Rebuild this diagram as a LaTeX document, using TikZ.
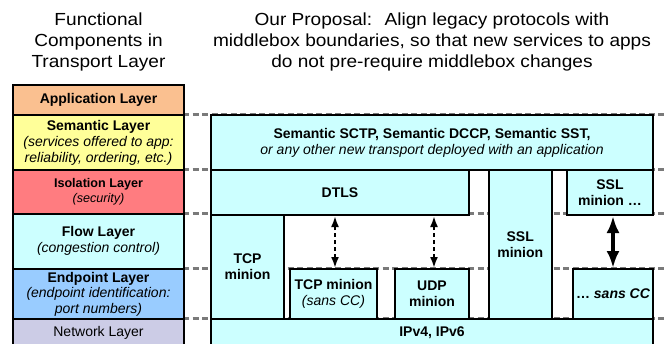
\documentclass[tikz,border=0pt]{standalone}
\usepackage{fontspec}
\setmainfont{Liberation Sans}
\newfontfamily\titlefont[FakeStretch=1.09]{Liberation Sans}
\usetikzlibrary{arrows.meta}

\definecolor{appc}{RGB}{250,192,144}
\definecolor{semc}{RGB}{255,255,153}
\definecolor{isoc}{RGB}{255,124,128}
\definecolor{flowc}{RGB}{204,255,255}
\definecolor{endc}{RGB}{153,204,255}
\definecolor{netc}{RGB}{204,204,230}
\definecolor{guidec}{RGB}{122,122,122}

\tikzset{
  box/.style={draw=black, line width=2pt, anchor=north west, inner sep=0pt,
    align=center, font=\fontsize{14}{16}\selectfont},
  layerbox/.style={box, minimum width=171pt},
  minionbox/.style={box, fill=flowc},
  guide/.style={draw=guidec, line width=3pt, dash pattern=on 6pt off 3.5pt},
  title/.style={align=center, font=\titlefont\fontsize{17.5}{21}\selectfont},
  softlink/.style={line width=2pt, dash pattern=on 4pt off 3pt,
    {Latex[length=11pt,width=8pt]}-{Latex[length=11pt,width=8pt]}},
  hardlink/.style={line width=4.5pt,
    {Latex[length=17pt,width=13pt]}-{Latex[length=17pt,width=13pt]}},
}

\begin{document}
\begin{tikzpicture}[x=1pt,y=-1pt]
\useasboundingbox (0,0) rectangle (664,343);
\clip (0,0) rectangle (664,343);

% headings
\node[title] (lefthead) at (98.5,41.5) {Functional\\Components in\\Transport Layer};
\node[title] (righthead) at (432,41.5) {Our Proposal:~ Align legacy protocols with\\middlebox boundaries, so that new services to apps\\do not pre-require middlebox changes};

% layer boundaries carried across the proposal
\coordinate (g1a) at (183,114); \coordinate (g1b) at (664,114);
\coordinate (g2a) at (183,169); \coordinate (g2b) at (664,169);
\coordinate (g3a) at (183,213); \coordinate (g3b) at (664,213);
\coordinate (g4a) at (183,268); \coordinate (g4b) at (664,268);
\coordinate (g5a) at (183,318); \coordinate (g5b) at (664,318);
\foreach \i in {1,...,5} \draw[guide] (g\i a) -- (g\i b);

% functional components
\node[layerbox, fill=appc, minimum height=30pt] (app) at (12,84) {\bfseries Application Layer};
\node[layerbox, fill=semc, minimum height=55pt] (sem) at (12,114)
  {\bfseries Semantic Layer\\\itshape (services offered to app:\\\itshape reliability, ordering, etc.)};
\node[layerbox, fill=isoc, minimum height=43.5pt, font=\fontsize{12.6}{14.5}\selectfont] (iso) at (12,169)
  {\bfseries Isolation Layer\\\itshape (security)};
\node[layerbox, fill=flowc, minimum height=55.5pt] (flow) at (12,212.5)
  {\bfseries Flow Layer\\\itshape (congestion control)};
\node[layerbox, fill=endc, minimum height=50pt, font=\fontsize{14}{15.5}\selectfont] (endp) at (12,268)
  {\bfseries Endpoint Layer\\\itshape (endpoint identification:\\\itshape port numbers)};
\node[layerbox, fill=netc, minimum height=28pt] (net) at (12,318) {Network Layer};

% proposed protocol arrangement
\node[minionbox, minimum width=442pt, minimum height=55pt] (semx) at (210,114)
  {\bfseries Semantic SCTP, Semantic DCCP, Semantic SST,\\\itshape or any other new transport deployed with an application};
\node[minionbox, minimum width=258pt, minimum height=45pt] (dtls) at (210,169) {\bfseries DTLS};
\node[minionbox, minimum width=73pt, minimum height=104pt] (tcpm) at (210,214) {\bfseries TCP\\\bfseries minion};
\node[minionbox, minimum width=87pt, minimum height=50pt] (tcpcc) at (289,268)
  {\bfseries TCP minion\\\itshape (sans CC)};
\node[minionbox, minimum width=74pt, minimum height=50pt] (udpm) at (394,268) {\bfseries UDP\\\bfseries minion};
\node[minionbox, minimum width=63.5pt, minimum height=149pt] (sslm) at (487.5,169) {\bfseries SSL\\\bfseries minion};
\node[minionbox, minimum width=86pt, minimum height=45pt] (sslmore) at (566,169)
  {\bfseries SSL\\\bfseries minion \ldots};
\node[minionbox, minimum width=80pt, minimum height=50pt] (sanscc) at (572,268)
  {\bfseries \ldots\ \itshape sans CC};
\node[minionbox, minimum width=442pt, minimum height=28pt] (ip) at (210,318) {\bfseries IPv4, IPv6};

% interchangeable layers
\draw[softlink] ([xshift=1.5pt]tcpcc.north) -- ([xshift=1.5pt]tcpcc.north |- dtls.south);
\draw[softlink] ([xshift=2pt]udpm.north) -- ([xshift=2pt]udpm.north |- dtls.south);
\draw[hardlink] (sanscc.north) -- (sanscc.north |- sslmore.south);
\end{tikzpicture}
\end{document}
